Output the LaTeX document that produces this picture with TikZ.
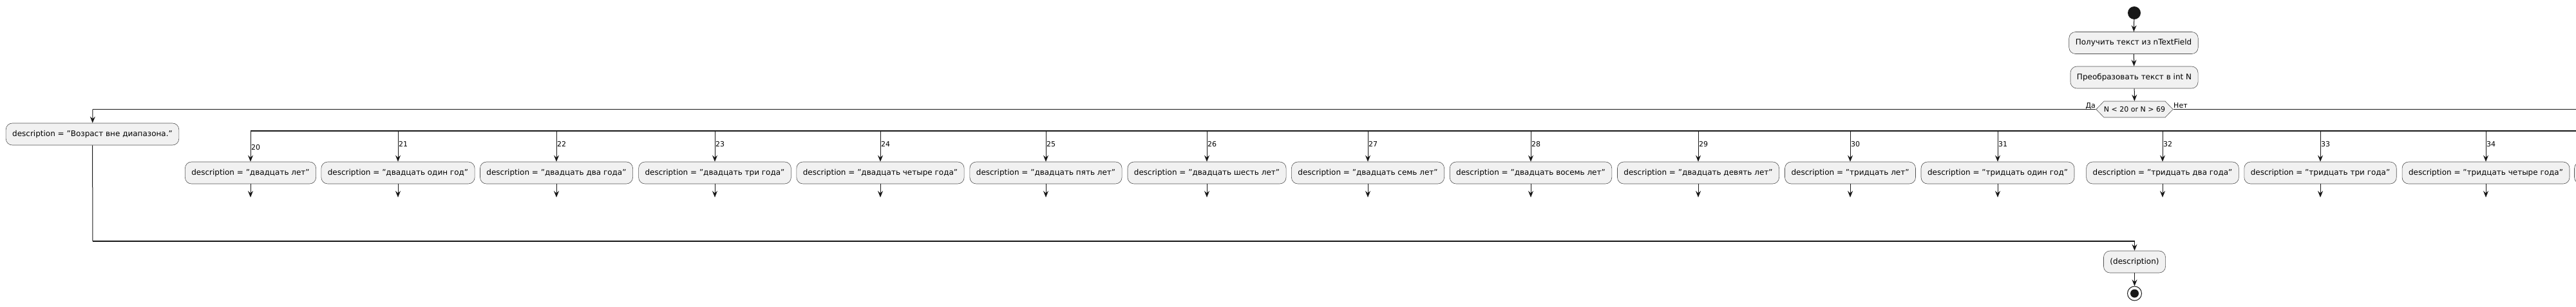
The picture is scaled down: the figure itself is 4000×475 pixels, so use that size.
\documentclass[tikz,border=0pt]{standalone}
\usepackage{fontspec}
\setmainfont{DejaVu Sans}
\usetikzlibrary{arrows.meta,shapes.symbols}
\definecolor{umlfill}{HTML}{F1F1F1}
\definecolor{umlline}{HTML}{181818}
\tikzset{
  act/.style={draw=umlline!75, line width=0.6pt, fill=umlfill, rounded corners=10pt,
    minimum height=34pt, inner xsep=10pt, font=\fontsize{12}{14}\selectfont},
  arr/.style={draw=umlline, line width=1pt, -{Stealth[length=10pt,width=8pt,inset=3.5pt]}},
  wire/.style={draw=umlline, line width=1pt},
  bar/.style={draw=umlline, line width=1.3pt},
  lbl/.style={font=\fontsize{11}{13}\selectfont, inner sep=1pt},
}
\begin{document}
\begin{tikzpicture}[x=1pt,y=-1pt]
  \useasboundingbox (0,0) rectangle (4000,475);
  \clip (0,0) rectangle (4000,475);
  % start and the two first steps
  \node[circle, fill=umlline, minimum size=20pt, inner sep=0pt] (start) at (3314,20) {};
  \node[act] (read) at (3313,66.5) {Получить текст из nTextField};
  \node[act] (conv) at (3314,120) {Преобразовать текст в int N};
  \node[signal, signal to=west and east, signal pointer angle=92, draw=umlline!75, line width=0.6pt,
    fill=umlfill, minimum height=25pt, inner xsep=0pt, font=\fontsize{11}{13}\selectfont] (check) at (3314.5,169.5) {N < 20 or N > 69};
  \draw[arr] (start) -- (read);
  \draw[arr] (read) -- (conv);
  \draw[arr] (conv) -- (check);
  \node[lbl, anchor=base east] (yes) at (3255,167) {Да};
  \node[lbl, anchor=base west] (no) at (3374,167) {Нет};
  % yes branch
  \node[act] (out) at (143.5,208) {description = "Возраст вне диапазона."};
  \coordinate (yesL) at (144,169.5);
  \coordinate (noR) at (4000,169.5);
  \draw[bar] (check.west) -- (yesL);
  \draw[arr] (yesL) -- (out);
  \draw[bar] (check.east) -- (noR);
  % no branch: one case per age
  \coordinate (splitL) at (389,203);
  \coordinate (splitR) at (4000,203);
  \draw[bar] (splitL) -- (splitR);
  \foreach \n/\x/\t/\ly in {20/389/двадцать лет/228, 21/618/двадцать один год/223,
      22/864/двадцать два года/223, 23/1110/двадцать три года/223,
      24/1367/двадцать четыре года/223, 25/1624/двадцать пять лет/223,
      26/1874/двадцать шесть лет/223, 27/2124/двадцать семь лет/223,
      28/2377/двадцать восемь лет/223, 29/2637/двадцать девять лет/223,
      30/2873/тридцать лет/223, 31/3102/тридцать один год/223,
      32/3358/тридцать два года/223, 33/3603/тридцать три года/223,
      34/3860/тридцать четыре года/223} {
    \node[act] (c\n) at (\x,268) {description = "\t"};
    \coordinate (s\n) at (\x,203);
    \coordinate (e\n) at (\x,306);
    \draw[arr] (s\n) -- (c\n);
    \draw[arr] (c\n) -- (e\n);
    \node[lbl, anchor=west] (n\n) at (\x,\ly) {\n};
  }
  % next case, cut off at the edge
  \draw[draw=umlline!75, line width=0.6pt, fill=umlfill, rounded corners=10pt] (3997.5,251) rectangle (4040,285);
  % merge and end
  \node[act] (show) at (3314.5,406) {(description)};
  \coordinate (mergeL) at (144,374);
  \coordinate (mergeR) at (3314.5,374);
  \draw[wire] (out) -- (mergeL);
  \draw[bar] (mergeL) -- (mergeR);
  \draw[arr] (mergeR) -- (show);
  \node[circle, draw=umlline, line width=1pt, minimum size=22pt, inner sep=0pt] (stop) at (3314.5,455) {};
  \fill[umlline] (stop.center) circle (6.5pt);
  \draw[arr] (show) -- (stop);
\end{tikzpicture}
\end{document}
